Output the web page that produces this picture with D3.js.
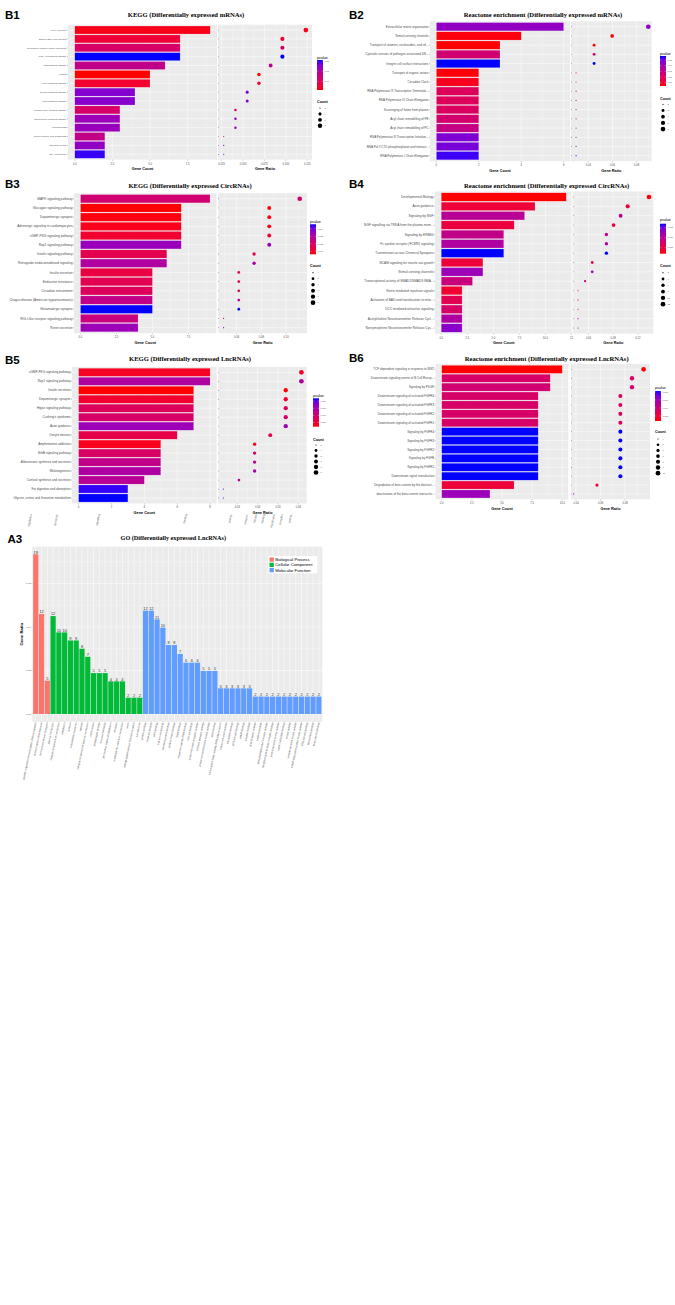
<!DOCTYPE html>
<html><head><meta charset="utf-8">
<script src="https://cdn.jsdelivr.net/npm/d3@7"></script>
<style>html,body{margin:0;padding:0;background:#fff;} svg{display:block;}</style>
</head><body><svg id="c" width="675" height="1305"></svg>
<script>
// ===================== DATA =====================
// B1 KEGG mRNAs
const b1Terms = ["HTLV-I infection","Epstein-Barr virus infection","Neuroactive ligand-receptor interaction","PI3K-Akt signaling pathway","Ras signaling pathway","Malaria","Apelin signaling pathway","Relaxin signaling pathway","FoxO signaling pathway","Cytosolic DNA-sensing pathway","Adipocytokine signaling pathway","Leishmaniasis","alpha-Linolenic acid metabolism","Circadian rhythm","RNA polymerase"];
const b1Counts = [9,7,7,7,6,5,5,4,4,3,3,3,2,2,2];
const b1Ratios = [0.1233,0.0959,0.0959,0.0959,0.0822,0.0685,0.0685,0.0548,0.0548,0.0411,0.0411,0.0411,0.0274,0.0274,0.0274];
const b1Pvalues = [0.0028,0.0059,0.0118,0.0310,0.0163,0.0015,0.0050,0.0251,0.0248,0.0121,0.0222,0.0227,0.0160,0.0236,0.0301];
const b1PTicks = [0.01,0.02,0.03];
const b1CountBreaks = [2,4,6,8];
const b1CountTicks = [0,2.5,5,7.5];
const b1CountTickLabels = ["0.0","2.5","5.0","7.5"];
const b1RatioTicks = [0.025,0.05,0.075,0.1,0.125];
const b1RatioTickLabels = ["0.025","0.050","0.075","0.100","0.125"];

// B2 Reactome mRNAs
const b2Terms = ["Extracellular matrix organization","Stimuli-sensing channels","Transport of vitamins, nucleosides, and rel...","Cytosolic sensors of pathogen-associated DN...","Integrin cell surface interactions","Transport of organic anions","Circadian Clock","RNA Polymerase III Transcription Terminatio...","RNA Polymerase III Chain Elongation","Scavenging of heme from plasma","Acyl chain remodelling of PE","Acyl chain remodelling of PC","RNA Polymerase III Transcription Initiation...","RNA Pol II CTD phosphorylation and interact...","RNA Polymerase I Chain Elongation"];
const b2Counts = [6,4,3,3,3,2,2,2,2,2,2,2,2,2,2];
const b2Ratios = [0.0896,0.0597,0.0448,0.0448,0.0448,0.0299,0.0299,0.0299,0.0299,0.0299,0.0299,0.0299,0.0299,0.0299,0.0299];
const b2Pvalues = [0.0438,0.0053,0.0042,0.0253,0.0570,0.0050,0.0074,0.0200,0.0198,0.0211,0.0243,0.0295,0.0475,0.0486,0.0549];
const b2PTicks = [0.01,0.02,0.03,0.04,0.05];
const b2CountBreaks = [2,3,4,5,6];
const b2CountTicks = [0,2,4,6];
const b2CountTickLabels = ["0","2","4","6"];
const b2RatioTicks = [0.04,0.06,0.08];
const b2RatioTickLabels = ["0.04","0.06","0.08"];

// B3 KEGG CircRNAs
const b3Terms = ["MAPK signaling pathway","Glucagon signaling pathway","Dopaminergic synapse","Adrenergic signaling in cardiomyocytes","cGMP-PKG signaling pathway","Rap1 signaling pathway","Insulin signaling pathway","Retrograde endocannabinoid signaling","Insulin secretion","Endocrine resistance","Circadian entrainment","Chagas disease (American trypanosomiasis)","Glutamatergic synapse","RIG-I-like receptor signaling pathway","Renin secretion"];
const b3Counts = [9,7,7,7,7,7,6,6,5,5,5,5,5,4,4];
const b3Ratios = [0.1111,0.0864,0.0864,0.0864,0.0864,0.0864,0.0741,0.0741,0.0617,0.0617,0.0617,0.0617,0.0617,0.0494,0.0494];
const b3Pvalues = [0.0022,0.0006,0.0007,0.0008,0.00108,0.00348,0.0016,0.0030,0.0014,0.00162,0.0018,0.0026,0.0046,0.0024,0.0034];
const b3PTicks = [0.001,0.002,0.003,0.004];
const b3CountBreaks = [4,5,6,7,8,9];
const b3CountTicks = [0,2.5,5,7.5];
const b3CountTickLabels = ["0.0","2.5","5.0","7.5"];
const b3RatioTicks = [0.06,0.08,0.10];
const b3RatioTickLabels = ["0.06","0.08","0.10"];

// B4 Reactome CircRNAs
const b4Terms = ["Developmental Biology","Axon guidance","Signaling by NGF","NGF signalling via TRKA from the plasma mem...","Signaling by ERBB4","Fc epsilon receptor (FCERI) signaling","Transmission across Chemical Synapses","NCAM signaling for neurite out-growth","Stimuli-sensing channels","Transcriptional activity of SMAD2/SMAD3:SMA...","Netrin mediated repulsion signals","Activation of BAD and translocation to mito...","DCC mediated attractive signaling","Acetylcholine Neurotransmitter Release Cycl...","Norepinephrine Neurotransmitter Release Cyc..."];
const b4Counts = [12,9,8,7,6,6,6,4,4,3,2,2,2,2,2];
const b4Ratios = [0.1379,0.1034,0.0920,0.0805,0.0690,0.0690,0.0690,0.0460,0.0460,0.0345,0.0230,0.0230,0.0230,0.0230,0.0230];
const b4Pvalues = [0.0020,0.0043,0.0103,0.0047,0.0095,0.0110,0.0170,0.0043,0.0125,0.0088,0.0038,0.0058,0.0073,0.0112,0.0137];
const b4PTicks = [0.005,0.010,0.015];
const b4CountBreaks = [2,4,6,8,10,12];
const b4CountTicks = [0,2.5,5,7.5,10,12.5];
const b4CountTickLabels = ["0.0","2.5","5.0","7.5","10.0","12"];
const b4RatioTicks = [0.04,0.08,0.12];
const b4RatioTickLabels = ["0.04","0.08","0.12"];

// B5 KEGG LncRNAs
const b5Terms = ["cGMP-PKG signaling pathway","Rap1 signaling pathway","Insulin secretion","Dopaminergic synapse","Hippo signaling pathway","Cushing's syndrome","Axon guidance","Oocyte meiosis","Amphetamine addiction","ErbB signaling pathway","Aldosterone synthesis and secretion","Melanogenesis","Cortisol synthesis and secretion","Fat digestion and absorption","Glycine, serine and threonine metabolism"];
const b5Counts = [8,8,7,7,7,7,7,6,5,5,5,5,4,3,3];
const b5Ratios = [0.0615,0.0615,0.0538,0.0538,0.0538,0.0538,0.0538,0.0462,0.0385,0.0385,0.0385,0.0385,0.0308,0.0231,0.0231];
const b5Pvalues = [0.00144,0.0056,0.0008,0.00176,0.0032,0.0036,0.0064,0.00256,0.00128,0.0035,0.0048,0.0057,0.0052,0.00856,0.0088];
const b5PTicks = [0.002,0.004,0.006,0.008];
const b5CountBreaks = [3,4,5,6,7,8];
const b5CountTicks = [0,2,4,6,8];
const b5CountTickLabels = ["0","2","4","6","8"];
const b5RatioTicks = [0.03,0.04,0.05,0.06];
const b5RatioTickLabels = ["0.03","0.04","0.05","0.06"];

// B6 Reactome LncRNAs
const b6Terms = ["TCF dependent signaling in response to WNT","Downstream signaling events of B Cell Recep...","Signaling by PDGF","Downstream signaling of activated FGFR4","Downstream signaling of activated FGFR3","Downstream signaling of activated FGFR2","Downstream signaling of activated FGFR1","Signaling by FGFR4","Signaling by FGFR3","Signaling by FGFR2","Signaling by FGFR","Signaling by FGFR1","Downstream signal transduction","Degradation of beta-catenin by the destruct...","deactivation of the beta-catenin transactiv..."];
const b6Counts = [10,9,9,8,8,8,8,8,8,8,8,8,8,6,4];
const b6Ratios = [0.0952,0.0857,0.0857,0.0762,0.0762,0.0762,0.0762,0.0762,0.0762,0.0762,0.0762,0.0762,0.0762,0.0571,0.0381];
const b6Pvalues = [0.00075,0.0034,0.0037,0.0034,0.0034,0.0034,0.0034,0.0082,0.0082,0.0082,0.0082,0.0082,0.0082,0.0019,0.0060];
const b6PTicks = [0.002,0.004,0.006,0.008];
const b6CountBreaks = [4,5,6,7,8,9,10];
const b6CountTicks = [0,2.5,5,7.5,10];
const b6CountTickLabels = ["0.0","2.5","5.0","7.5","10.0"];
const b6RatioTicks = [0.04,0.06,0.08];
const b6RatioTickLabels = ["0.04","0.06","0.08"];

// A3 GO LncRNAs
const goBPTerms = ["positive regulation of transcription, DNA-templated","nervous system development","ion transmembrane transport"];
const goBPCounts = [19,12,5];
const goBPRatios = [0.0734,0.0460,0.0153];
const goCCTerms = ["plasma membrane","integral component of membrane","cytoplasm","nucleus","extracellular exosome","cytosol","integral component of plasma membrane","cell junction","postsynaptic density","neuronal cell body","perinuclear region of cytoplasm","dendrite","endoplasmic reticulum membrane","axon","voltage-gated calcium channel complex","sarcolemma"];
const goCCCounts = [12,10,10,9,9,8,7,5,5,5,4,4,4,2,2,2];
const goCCRatios = [0.0450,0.0375,0.0375,0.0338,0.0338,0.0300,0.0263,0.0188,0.0188,0.0188,0.0150,0.0150,0.0150,0.0075,0.0075,0.0075];
const goMFTerms = ["protein binding","metal ion binding","ATP binding","calcium ion binding","identical protein binding","protein kinase binding","DNA binding","sequence-specific DNA binding","zinc ion binding","protein homodimerization activity","GTPase activator activity","protein serine/threonine kinase activity","actin binding","transcription factor activity, RNA polymerase II","calcium channel activity","calmodulin binding","SH3 domain binding","cAMP binding","receptor binding","growth factor activity","heparin binding","phosphatidylinositol 3-kinase activity","fibroblast growth factor receptor binding","protein tyrosine kinase activity","cyclic nucleotide binding","kinase activity","receptor tyrosine kinase activity","cGMP-dependent protein kinase activity","PDZ domain binding","Wnt-protein binding","beta-catenin binding"];
const goMFCounts = [12,12,11,10,8,8,7,6,6,6,5,5,5,3,3,3,3,3,3,2,2,2,2,2,2,2,2,2,2,2,2];
const goMFRatios = [0.0475,0.0475,0.0435,0.0397,0.0317,0.0317,0.0276,0.0236,0.0236,0.0236,0.0198,0.0198,0.0198,0.0118,0.0118,0.0118,0.0118,0.0118,0.0118,0.0080,0.0080,0.0080,0.0080,0.0080,0.0080,0.0080,0.0080,0.0080,0.0080,0.0080,0.0080];
const goCategories = ["Biological Process","Cellular Component","Molecular Function"];
const goColors = ["#F8766D","#00BA38","#619CFF"];
const goRatioTicks = [0,0.02,0.04,0.06];
const goRatioTickLabels = ["0.00","0.02","0.04","0.06"];

// leftover rotated label fragments printed under panel B5
const strayTexts = ["regulation","-","apoptotic","signaling","binding","-","activity","receptor","kinase","binding","membrane","complex","activity"];

// ===================== DRAWING =====================
const svg = d3.select("#c");
svg.append("rect").attr("width",675).attr("height",1305).attr("fill","#fff");
const SANS = "Liberation Sans, Arial, Helvetica, sans-serif";
const SERIF = "Liberation Serif, Times New Roman, serif";
const BG = "#EBEBEB";
const TXT = "#4D4D4D";
let gradId = 0;

function minorsOf(ticks, dom) {
  const s = ticks[1] - ticks[0];
  const m = [];
  for (let v = ticks[0] - s / 2; v <= dom[1] + 1e-9; v += s) if (v >= dom[0]) m.push(v);
  return m;
}

function drawEnrich(c) {
  const g = svg.append("g");
  g.append("text").attr("x", c.lx).attr("y", c.ly).attr("font-family", SANS).attr("font-weight", "bold")
    .attr("font-size", 11.5).attr("fill", "#000").text(c.label);
  g.append("text").attr("x", c.tx).attr("y", c.ty).attr("text-anchor", "middle").attr("font-family", SERIF)
    .attr("font-weight", "bold").attr("font-size", 6.6).attr("fill", "#000").text(c.title);

  const y = d3.scalePoint().domain(c.terms).range([c.top, c.bottom]).padding(0.6);
  const st = y.step();
  const col = d3.scaleLinear().domain(d3.extent(c.pvalues)).range(["#FF0000", "#0000FF"]).interpolate(d3.interpolateLab);
  const ce = d3.extent(c.counts);
  const rr = v => c.rmin + (c.rmax - c.rmin) * Math.sqrt((v - ce[0]) / (ce[1] - ce[0]));

  function panelBase(x, ticks, labels, title) {
    const [x0, x1] = x.range();
    const dom = x.domain();
    g.append("rect").attr("x", x0).attr("y", c.top).attr("width", x1 - x0).attr("height", c.bottom - c.top).attr("fill", BG);
    g.selectAll(null).data(minorsOf(ticks, dom)).join("line")
      .attr("x1", d => x(d)).attr("x2", d => x(d)).attr("y1", c.top).attr("y2", c.bottom)
      .attr("stroke", "#fff").attr("stroke-width", 0.25);
    g.selectAll(null).data(ticks).join("line")
      .attr("x1", d => x(d)).attr("x2", d => x(d)).attr("y1", c.top).attr("y2", c.bottom)
      .attr("stroke", "#fff").attr("stroke-width", 0.5);
    g.selectAll(null).data(c.terms).join("line")
      .attr("x1", x0).attr("x2", x1).attr("y1", d => y(d)).attr("y2", d => y(d))
      .attr("stroke", "#fff").attr("stroke-width", 0.5);
    g.selectAll(null).data(ticks).join("line")
      .attr("x1", d => x(d)).attr("x2", d => x(d)).attr("y1", c.bottom).attr("y2", c.bottom + 1)
      .attr("stroke", "#333").attr("stroke-width", 0.3);
    g.selectAll(null).data(ticks).join("text")
      .attr("x", d => x(d)).attr("y", c.bottom + 4.9).attr("text-anchor", "middle")
      .attr("font-family", SANS).attr("font-size", 2.7).attr("fill", TXT)
      .text((d, i) => labels[i]);
    g.append("text").attr("x", (x0 + x1) / 2).attr("y", c.bottom + 10.4).attr("text-anchor", "middle")
      .attr("font-family", SANS).attr("font-weight", "bold").attr("font-size", 3.8).attr("fill", "#000").text(title);
  }

  // ---- bar panel
  const xb = d3.scaleLinear().domain(c.barDomain).range([c.bx0, c.bx1]);
  panelBase(xb, c.countTicks, c.countTickLabels, "Gene Count");
  g.selectAll(null).data(c.terms).join("rect")
    .attr("x", xb(0)).attr("y", d => y(d) - 0.45 * st)
    .attr("width", (d, i) => xb(c.counts[i]) - xb(0)).attr("height", 0.9 * st)
    .attr("fill", (d, i) => col(c.pvalues[i]))
    .attr("stroke", "#fff").attr("stroke-opacity", 0.45).attr("stroke-width", 0.4);
  g.selectAll(null).data(c.terms).join("line")
    .attr("x1", c.bx0 - 1).attr("x2", c.bx0).attr("y1", d => y(d)).attr("y2", d => y(d))
    .attr("stroke", "#333").attr("stroke-width", 0.3);
  g.selectAll(null).data(c.terms).join("text")
    .attr("x", c.bx0 - 1.5).attr("y", d => y(d)).attr("dy", "0.35em").attr("text-anchor", "end")
    .attr("font-family", SANS).attr("font-size", c.labelFont).attr("fill", TXT).text(d => d);

  // ---- dot panel
  const xd = d3.scaleLinear().domain(c.ratioDomain).range([c.dx0, c.dx1]);
  panelBase(xd, c.ratioTicks, c.ratioTickLabels, "Gene Ratio");
  g.selectAll(null).data(c.terms).join("circle")
    .attr("cx", c.dx0 + 0.5).attr("cy", d => y(d)).attr("r", 0.4).attr("fill", "#333");
  g.selectAll(null).data(c.terms).join("circle")
    .attr("cx", (d, i) => xd(c.ratios[i])).attr("cy", d => y(d))
    .attr("r", (d, i) => rr(c.counts[i])).attr("fill", (d, i) => col(c.pvalues[i]));

  // ---- legends
  const id = "grad" + (gradId++);
  const grad = svg.append("defs").append("linearGradient").attr("id", id)
    .attr("x1", 0).attr("y1", 1).attr("x2", 0).attr("y2", 0);
  const pe = d3.extent(c.pvalues);
  d3.range(0, 1.0001, 0.1).forEach(t => {
    grad.append("stop").attr("offset", t).attr("stop-color", col(pe[0] + t * (pe[1] - pe[0])));
  });
  g.append("text").attr("x", c.legX).attr("y", c.pTitleY).attr("font-family", SANS).attr("font-size", 3.7)
    .attr("fill", "#000").text("pvalue");
  const cbw = 6;
  g.append("rect").attr("x", c.legX).attr("y", c.cb0).attr("width", cbw).attr("height", c.cb1 - c.cb0)
    .attr("fill", `url(#${id})`);
  const ps = d3.scaleLinear().domain(pe).range([c.cb1, c.cb0]);
  c.pTicks.forEach(p => {
    const yy = ps(p);
    g.append("line").attr("x1", c.legX).attr("x2", c.legX + 1.3).attr("y1", yy).attr("y2", yy).attr("stroke", "#fff").attr("stroke-width", 0.3);
    g.append("line").attr("x1", c.legX + cbw - 1.3).attr("x2", c.legX + cbw).attr("y1", yy).attr("y2", yy).attr("stroke", "#fff").attr("stroke-width", 0.3);
    g.append("text").attr("x", c.legX + cbw + 1.5).attr("y", yy).attr("dy", "0.35em").attr("font-family", SANS)
      .attr("font-size", 2.2).attr("fill", TXT).text(d3.format(c.pFmt)(p));
  });
  g.append("text").attr("x", c.legX).attr("y", c.cTitleY).attr("font-family", SANS).attr("font-size", 3.7)
    .attr("font-weight", 600).attr("fill", "#000").text("Count");
  c.countBreaks.forEach((v, i) => {
    const yy = c.cDot0 + i * c.cDotStep;
    g.append("circle").attr("cx", c.legX + 3).attr("cy", yy).attr("r", rr(v)).attr("fill", "#000");
    g.append("text").attr("x", c.legX + 7.5).attr("y", yy).attr("dy", "0.35em").attr("font-family", SANS)
      .attr("font-size", 2.2).attr("fill", TXT).text(v);
  });
}

const common = { rmin: 0.6, rmax: 2.35 };
drawEnrich(Object.assign({}, common, {
  label: "B1", title: "KEGG (Differentially expressed mRNAs)", lx: 5, ly: 18.5, tx: 186, ty: 17,
  terms: b1Terms, counts: b1Counts, ratios: b1Ratios, pvalues: b1Pvalues, pTicks: b1PTicks, pFmt: ".2f",
  countBreaks: b1CountBreaks, countTicks: b1CountTicks, countTickLabels: b1CountTickLabels,
  ratioTicks: b1RatioTicks, ratioTickLabels: b1RatioTickLabels,
  bx0: 68, bx1: 217, top: 24.7, bottom: 159.6, barDomain: [-0.45, 9.45],
  dx0: 218, dx1: 312, ratioDomain: [0.0207, 0.1305],
  legX: 317, pTitleY: 58.5, cb0: 60, cb1: 90, cTitleY: 102.5, cDot0: 108, cDotStep: 5.9, labelFont: 2.3
}));
drawEnrich(Object.assign({}, common, {
  label: "B2", title: "Reactome enrichment (Differentially expressed mRNAs)", lx: 349, ly: 18.5, tx: 543, ty: 17,
  terms: b2Terms, counts: b2Counts, ratios: b2Ratios, pvalues: b2Pvalues, pTicks: b2PTicks, pFmt: ".2f",
  countBreaks: b2CountBreaks, countTicks: b2CountTicks, countTickLabels: b2CountTickLabels,
  ratioTicks: b2RatioTicks, ratioTickLabels: b2RatioTickLabels,
  bx0: 430, bx1: 570, top: 21.2, bottom: 161.2, barDomain: [-0.3, 6.3],
  dx0: 571, dx1: 651.7, ratioDomain: [0.0257, 0.0924],
  legX: 660, pTitleY: 54.5, cb0: 56, cb1: 86, cTitleY: 99.5, cDot0: 104.3, cDotStep: 6.2, labelFont: 3.0
}));
drawEnrich(Object.assign({}, common, {
  label: "B3", title: "KEGG (Differentially expressed CircRNAs)", lx: 5, ly: 188, tx: 190, ty: 187.5,
  terms: b3Terms, counts: b3Counts, ratios: b3Ratios, pvalues: b3Pvalues, pTicks: b3PTicks, pFmt: ".3f",
  countBreaks: b3CountBreaks, countTicks: b3CountTicks, countTickLabels: b3CountTickLabels,
  ratioTicks: b3RatioTicks, ratioTickLabels: b3RatioTickLabels,
  bx0: 74, bx1: 216.5, top: 193.2, bottom: 333.2, barDomain: [-0.45, 9.45],
  dx0: 218.3, dx1: 307, ratioDomain: [0.0451, 0.117],
  legX: 310, pTitleY: 222.5, cb0: 224.3, cb1: 254.3, cTitleY: 267, cDot0: 272.7, cDotStep: 6, labelFont: 3.2
}));
drawEnrich(Object.assign({}, common, {
  label: "B4", title: "Reactome enrichment (Differentially expressed CircRNAs)", lx: 349, ly: 188, tx: 546.7, ty: 187.5,
  terms: b4Terms, counts: b4Counts, ratios: b4Ratios, pvalues: b4Pvalues, pTicks: b4PTicks, pFmt: ".3f",
  countBreaks: b4CountBreaks, countTicks: b4CountTicks, countTickLabels: b4CountTickLabels,
  ratioTicks: b4RatioTicks, ratioTickLabels: b4RatioTickLabels,
  bx0: 435, bx1: 572.5, top: 191.4, bottom: 333.6, barDomain: [-0.6, 12.6],
  dx0: 573.3, dx1: 653.3, ratioDomain: [0.0154, 0.1449],
  legX: 660, pTitleY: 220.5, cb0: 223.7, cb1: 253.7, cTitleY: 267, cDot0: 272.7, cDotStep: 6.3, labelFont: 3.2
}));
drawEnrich(Object.assign({}, common, {
  label: "B5", title: "KEGG (Differentially expressed LncRNAs)", lx: 5, ly: 364, tx: 190, ty: 361,
  terms: b5Terms, counts: b5Counts, ratios: b5Ratios, pvalues: b5Pvalues, pTicks: b5PTicks, pFmt: ".3f",
  countBreaks: b5CountBreaks, countTicks: b5CountTicks, countTickLabels: b5CountTickLabels,
  ratioTicks: b5RatioTicks, ratioTickLabels: b5RatioTickLabels,
  bx0: 72, bx1: 216.7, top: 366.9, bottom: 503.4, barDomain: [-0.4, 8.4],
  dx0: 218.3, dx1: 306.7, ratioDomain: [0.02065, 0.0641],
  legX: 313, pTitleY: 396.5, cb0: 398.3, cb1: 426.7, cTitleY: 440.5, cDot0: 445, cDotStep: 5.5, labelFont: 3.1
}));
drawEnrich(Object.assign({}, common, {
  label: "B6", title: "Reactome enrichment (Differentially expressed LncRNAs)", lx: 349, ly: 361.5, tx: 546.7, ty: 361,
  terms: b6Terms, counts: b6Counts, ratios: b6Ratios, pvalues: b6Pvalues, pTicks: b6PTicks, pFmt: ".3f",
  countBreaks: b6CountBreaks, countTicks: b6CountTicks, countTickLabels: b6CountTickLabels,
  ratioTicks: b6RatioTicks, ratioTickLabels: b6RatioTickLabels,
  bx0: 435.7, bx1: 568.3, top: 364, bottom: 499.3, barDomain: [-0.5, 10.5],
  dx0: 571, dx1: 650, ratioDomain: [0.0359, 0.1004],
  legX: 655, pTitleY: 389, cb0: 391, cb1: 421, cTitleY: 433, cDot0: 439, cDotStep: 5.7, labelFont: 3.0
}));

// stray rotated fragments under B5 (layout positions for them)
(function () {
  const xs = [32, 50, 58, 100, 187, 222, 232, 248, 257, 265, 275, 283, 292];
  const lens = [2.9, 2.9, 2.9, 2.9, 2.9, 2.9, 2.9, 2.9, 2.9, 2.9, 2.9, 2.9, 2.9];
  svg.append("g").selectAll("text").data(strayTexts).join("text")
    .attr("transform", (d, i) => `translate(${xs[i]},514.5) rotate(-78)`)
    .attr("text-anchor", "end").attr("font-family", SANS).attr("font-size", (d, i) => lens[i])
    .attr("fill", "#666").text(d => d);
})();

// ---- A3 GO chart
(function () {
  const g = svg.append("g");
  const terms = goBPTerms.concat(goCCTerms, goMFTerms);
  const counts = goBPCounts.concat(goCCCounts, goMFCounts);
  const ratios = goBPRatios.concat(goCCRatios, goMFRatios);
  const cats = goBPTerms.map(() => 0).concat(goCCTerms.map(() => 1), goMFTerms.map(() => 2));
  const idx = d3.range(terms.length);
  const px0 = 32.3, px1 = 322.3, pt = 546.7, pb = 721.7;
  const x = d3.scaleBand().domain(idx).range([px0, px1]).paddingInner(0.1).paddingOuter(0.15);
  const y = d3.scaleLinear().domain([-0.00354, 0.0769]).range([pb, pt]);
  const color = d3.scaleOrdinal().domain([0, 1, 2]).range(goColors);

  g.append("text").attr("x", 7.5).attr("y", 542.7).attr("font-family", SANS).attr("font-weight", "bold")
    .attr("font-size", 11.5).text("A3");
  g.append("text").attr("x", 173.3).attr("y", 540.3).attr("text-anchor", "middle").attr("font-family", SERIF)
    .attr("font-weight", "bold").attr("font-size", 6.2).text("GO (Differentially expressed LncRNAs)");

  g.append("rect").attr("x", px0).attr("y", pt).attr("width", px1 - px0).attr("height", pb - pt).attr("fill", BG);
  g.selectAll(null).data(minorsOf(goRatioTicks, y.domain())).join("line")
    .attr("x1", px0).attr("x2", px1).attr("y1", d => y(d)).attr("y2", d => y(d)).attr("stroke", "#fff").attr("stroke-width", 0.25);
  g.selectAll(null).data(goRatioTicks).join("line")
    .attr("x1", px0).attr("x2", px1).attr("y1", d => y(d)).attr("y2", d => y(d)).attr("stroke", "#fff").attr("stroke-width", 0.5);
  g.selectAll(null).data(idx).join("line")
    .attr("x1", d => x(d) + x.bandwidth() / 2).attr("x2", d => x(d) + x.bandwidth() / 2).attr("y1", pt).attr("y2", pb)
    .attr("stroke", "#fff").attr("stroke-width", 0.5);
  g.selectAll(null).data(idx).join("rect")
    .attr("x", d => x(d)).attr("width", x.bandwidth())
    .attr("y", d => y(ratios[d])).attr("height", d => y(0) - y(ratios[d]))
    .attr("fill", d => color(cats[d]));
  g.selectAll(null).data(idx).join("text")
    .attr("x", d => x(d) + x.bandwidth() / 2).attr("y", d => y(ratios[d]) - 0.6).attr("text-anchor", "middle")
    .attr("font-family", SANS).attr("font-size", 3.9).attr("fill", "#333").text(d => counts[d]);
  g.selectAll(null).data(goRatioTicks).join("line")
    .attr("x1", px0 - 1).attr("x2", px0).attr("y1", d => y(d)).attr("y2", d => y(d)).attr("stroke", "#333").attr("stroke-width", 0.3);
  g.selectAll(null).data(goRatioTicks).join("text")
    .attr("x", px0 - 1.6).attr("y", d => y(d)).attr("dy", "0.35em").attr("text-anchor", "end")
    .attr("font-family", SANS).attr("font-size", 2.5).attr("fill", TXT).text((d, i) => goRatioTickLabels[i]);
  g.append("text").attr("transform", `translate(22.8,${(pt + pb) / 2}) rotate(-90)`).attr("text-anchor", "middle")
    .attr("font-family", SANS).attr("font-weight", "bold").attr("font-size", 4.3).text("Gene Ratio");
  g.selectAll(null).data(idx).join("line")
    .attr("x1", d => x(d) + x.bandwidth() / 2).attr("x2", d => x(d) + x.bandwidth() / 2).attr("y1", pb).attr("y2", pb + 1)
    .attr("stroke", "#333").attr("stroke-width", 0.3);
  g.selectAll(null).data(idx).join("text")
    .attr("transform", d => `translate(${x(d) + x.bandwidth() / 2 + 0.6},${pb + 1.6}) rotate(-78)`)
    .attr("text-anchor", "end").attr("font-family", SANS).attr("font-size", 2.6).attr("fill", TXT)
    .text(d => terms[d]);
  const lx = 268.3, ly = 556;
  g.append("rect").attr("x", lx).attr("y", ly).attr("width", 49).attr("height", 17.3).attr("fill", "#fff");
  goCategories.forEach((cname, i) => {
    g.append("rect").attr("x", lx + 1.2).attr("y", ly + 1.4 + i * 5.3).attr("width", 4.3).attr("height", 4.3).attr("fill", goColors[i]);
    g.append("text").attr("x", lx + 7).attr("y", ly + 1.4 + i * 5.3 + 2.15).attr("dy", "0.35em")
      .attr("font-family", SANS).attr("font-size", 4.2).attr("fill", "#000").text(cname);
  });
})();
</script>
</body></html>
